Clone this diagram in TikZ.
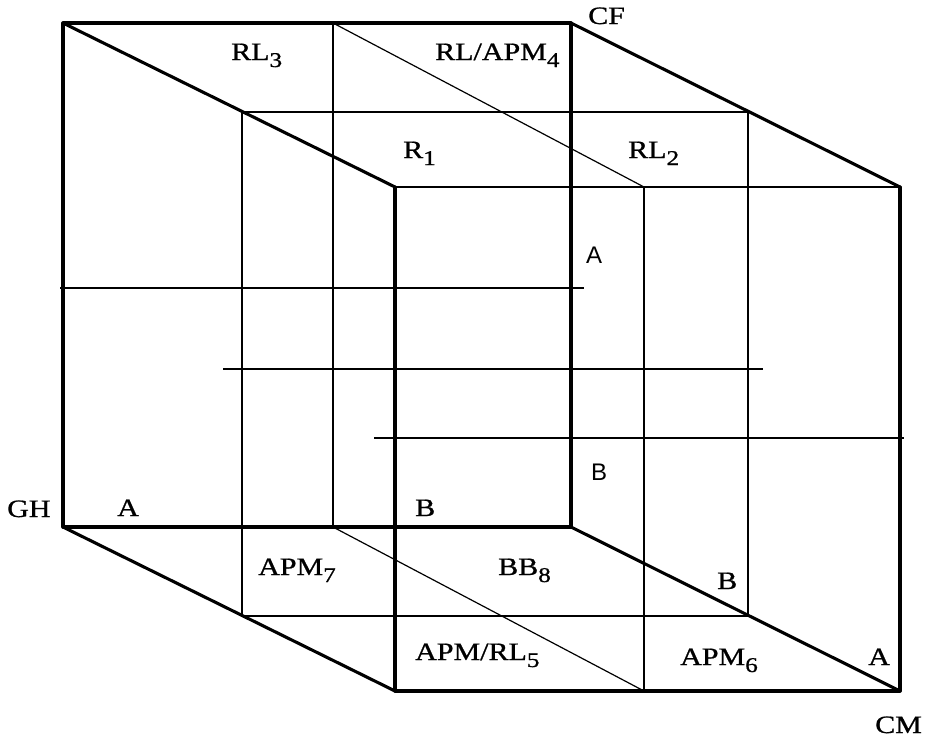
\documentclass[tikz,border=0pt]{standalone}
\usepackage{fontspec}
\usepackage{graphicx}
\setmainfont[FakeBold=0.8]{Liberation Serif}
\newfontfamily\arialf{Liberation Sans}
\newcommand\lbx[1]{\scalebox{1.2}[1]{#1}}
\newcommand\sbx[1]{\raisebox{-7pt}{\fontsize{21}{21}\selectfont #1}}
\tikzset{
  thickedge/.style={line width=3.1pt, line cap=round, line join=round},
  midedge/.style={line width=1.9pt},
  thinedge/.style={line width=1.2pt},
  lbl/.style={anchor=base west, inner sep=0pt, font=\fontsize{25}{27}\selectfont},
  slbl/.style={anchor=base west, inner sep=0pt, font=\arialf\fontsize{24}{26}\selectfont},
}
\begin{document}
\begin{tikzpicture}[x=1pt,y=-1pt]
\useasboundingbox (0,0) rectangle (933,739);
% corners
\coordinate (B1) at (63,23);  \coordinate (B2) at (571,23);
\coordinate (B3) at (571,527); \coordinate (B4) at (63,527);
\coordinate (F1) at (395,187); \coordinate (F2) at (900,187);
\coordinate (F3) at (900,691); \coordinate (F4) at (395,691);
\coordinate (M1) at (242,112); \coordinate (M2) at (748,112);
\coordinate (M3) at (748,616); \coordinate (M4) at (242,616);
\coordinate (P1) at (333,23);  \coordinate (P2) at (333,527);
\coordinate (Q1) at (644,187); \coordinate (Q2) at (644,691);
\coordinate (H1a) at (60,288);  \coordinate (H1b) at (584,288);
\coordinate (H2a) at (223,369); \coordinate (H2b) at (763,369);
\coordinate (H3a) at (374,438); \coordinate (H3b) at (904,438);
% thin lines
\draw[thinedge] (P1) -- (P2);
\draw[thinedge] (P1) -- (Q1);
\draw[thinedge] (P2) -- (Q2);
% medium lines
\draw[midedge] (M1) -- (M2) -- (M3) -- (M4) -- cycle;
\draw[midedge] (Q1) -- (Q2);
\draw[midedge] (F1) -- (F2);
\draw[midedge] (H1a) -- (H1b);
\draw[midedge] (H2a) -- (H2b);
\draw[midedge] (H3a) -- (H3b);
% thick edges
\draw[thickedge] (B1) -- (B2) -- (B3) -- (B4) -- cycle;
\draw[thickedge] (B1) -- (F1);
\draw[thickedge] (B2) -- (F2);
\draw[thickedge] (B3) -- (F3);
\draw[thickedge] (B4) -- (F4);
\draw[thickedge] (F1) -- (F4) -- (F3) -- (F2);
% labels
\node[lbl] (rl3) at (231,60) {\lbx{RL\sbx{3}}};
\node[lbl] (rlapm4) at (435,60) {\lbx{RL/APM\sbx{4}}};
\node[lbl] (r1) at (403,158) {\lbx{R\sbx{1}}};
\node[lbl] (rl2) at (628,158) {\lbx{RL\sbx{2}}};
\node[lbl] (cf) at (588,24) {\lbx{CF}};
\node[lbl] (gh) at (7,517) {\lbx{GH}};
\node[lbl] (a1) at (117,516) {\lbx{A}};
\node[lbl] (b1) at (415,516) {\lbx{B}};
\node[lbl] (apm7) at (258,575) {\lbx{APM\sbx{7}}};
\node[lbl] (bb8) at (498,575) {\lbx{BB\sbx{8}}};
\node[lbl] (b2) at (717,589) {\lbx{B}};
\node[lbl] (apmrl5) at (415,660) {\lbx{APM/RL\sbx{5}}};
\node[lbl] (apm6) at (680,665) {\lbx{APM\sbx{6}}};
\node[lbl] (a2) at (868,665) {\lbx{A}};
\node[lbl] (cm) at (875,733) {\lbx{CM}};
\node[slbl] (sa) at (586,263) {A};
\node[slbl] (sb) at (591,480) {B};
\end{tikzpicture}
\end{document}
